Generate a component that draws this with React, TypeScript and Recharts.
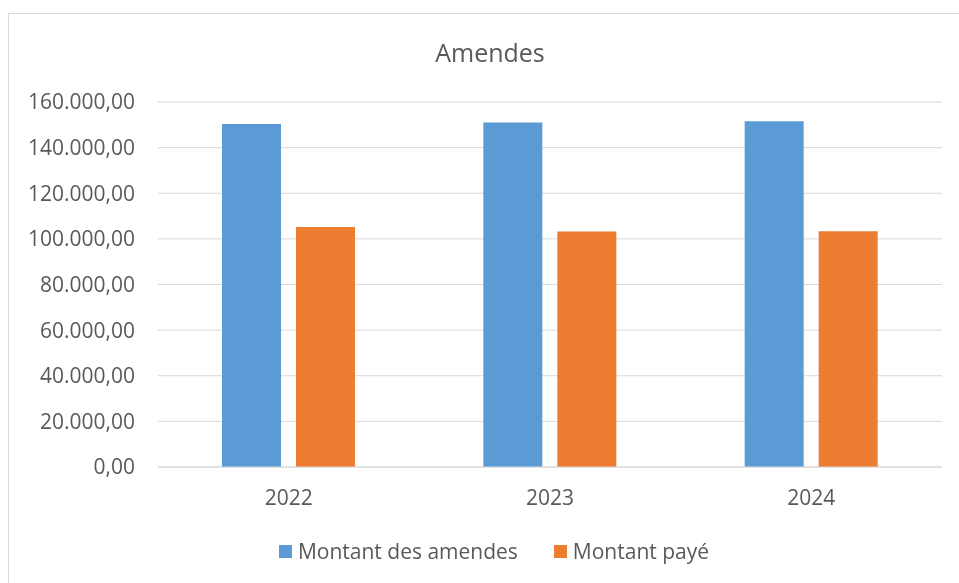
import { BarChart, Bar, XAxis, YAxis, CartesianGrid, Legend } from 'recharts';

const years = ['2022', '2023', '2024'];
const montantAmendes = [150350, 150960, 151530];
const montantPaye = [105260, 103200, 103330];
const yTicks = [0, 20000, 40000, 60000, 80000, 100000, 120000, 140000, 160000];

const data = years.map((year, i) => ({
  year,
  amendes: montantAmendes[i],
  paye: montantPaye[i],
}));

const TEXT = '#595959';
const GRID = '#d9d9d9';
const FONT = '"Open Sans", sans-serif';

function formatFr(v: number): string {
  const int = Math.round(v).toString().replace(/\B(?=(\d{3})+(?!\d))/g, '.');
  return `${int},00`;
}

interface LegendEntry {
  value: string;
  color: string;
}

function ExcelLegend({ payload }: { payload?: LegendEntry[] }) {
  return (
    <div style={{ display: 'flex', justifyContent: 'center', alignItems: 'center', height: 28 }}>
      {(payload || []).map((entry, i) => (
        <div
          key={entry.value}
          style={{ display: 'flex', alignItems: 'center', marginLeft: i > 0 ? 36 : 0 }}
        >
          <span style={{ width: 13, height: 13, background: entry.color, marginRight: 6 }} />
          <span style={{ color: TEXT, fontSize: 21, fontFamily: FONT }}>{entry.value}</span>
        </div>
      ))}
    </div>
  );
}

export default function App() {
  return (
    <div
      style={{
        position: 'fixed',
        left: 8,
        top: 13,
        width: 951,
        height: 570,
        overflow: 'hidden',
        borderLeft: `1px solid ${GRID}`,
        borderTop: `1px solid ${GRID}`,
        fontFamily: FONT,
      }}
    >
      <div
        style={{
          position: 'absolute',
          left: 0,
          top: 23,
          width: 962,
          textAlign: 'center',
          fontSize: 25,
          lineHeight: '30px',
          color: TEXT,
        }}
      >
        Amendes
      </div>
      <BarChart
        width={950}
        height={569}
        data={data}
        margin={{ top: 88, right: 17, left: 0, bottom: 18 }}
        barSize={59}
        barGap={15}
      >
        <CartesianGrid vertical={false} stroke={GRID} />
        <XAxis
          dataKey="year"
          height={70}
          tickSize={0}
          tickMargin={23}
          axisLine={{ stroke: GRID }}
          tickLine={false}
          tick={{ fill: TEXT, fontSize: 21, fontFamily: FONT }}
        />
        <YAxis
          width={149}
          domain={[0, 160000]}
          ticks={yTicks}
          tickFormatter={formatFr}
          tickSize={0}
          tickMargin={23}
          axisLine={false}
          tickLine={false}
          tick={{ fill: TEXT, fontSize: 21, fontFamily: FONT }}
        />
        <Legend
          verticalAlign="bottom"
          height={28}
          wrapperStyle={{ left: 0, width: 970 }}
          content={(props: any) => <ExcelLegend payload={props.payload} />}
        />
        <Bar
          dataKey="amendes"
          name="Montant des amendes"
          fill="#5B9BD5"
          isAnimationActive={false}
        />
        <Bar
          dataKey="paye"
          name="Montant payé"
          fill="#ED7D31"
          isAnimationActive={false}
        />
      </BarChart>
    </div>
  );
}
